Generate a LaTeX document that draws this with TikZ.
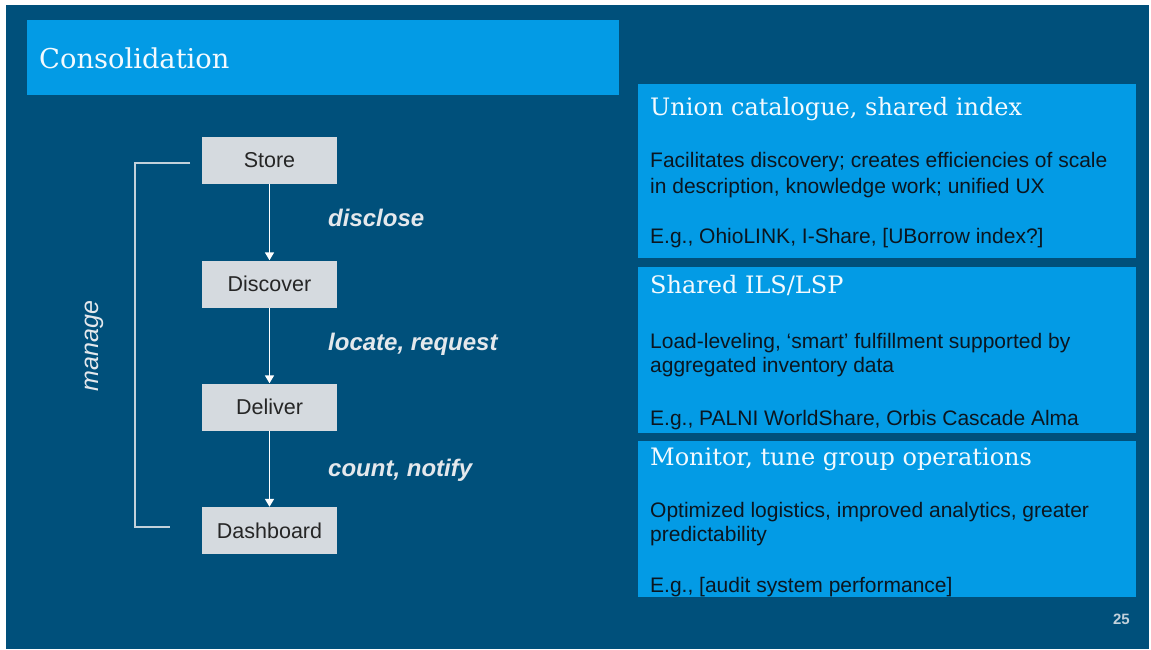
\documentclass[tikz,border=0pt]{standalone}
\usepackage{fontspec}
\setmainfont{Liberation Sans}
\newfontfamily\slab{DejaVu Serif}
\usetikzlibrary{arrows.meta}
\definecolor{bgdark}{HTML}{00507B}
\definecolor{bluebar}{HTML}{039BE5}
\definecolor{boxgray}{HTML}{D5DADF}
\definecolor{lbl}{HTML}{E4E8EC}
\definecolor{bodytxt}{HTML}{0B1620}
\begin{document}
\begin{tikzpicture}[x=1pt,y=-1pt,
  stepbox/.style={draw=none,fill=boxgray,minimum width=135pt,minimum height=47pt,inner sep=0pt,
    font=\fontsize{21.5}{25}\selectfont,text=black!85},
  flow/.style={draw=white,line width=1.6pt,-{Triangle[width=9pt,length=8pt]}},
  flowlbl/.style={anchor=base west,inner sep=0pt,text=lbl,font=\fontsize{24}{28}\selectfont\bfseries\itshape},
  panel/.style={fill=bluebar,draw=none,anchor=north west,minimum width=498pt,inner sep=0pt},
  ptitle/.style={anchor=base west,inner sep=0pt,text=white!95!bluebar,font=\slab\fontsize{24}{28}\selectfont},
  pbody/.style={anchor=base west,inner sep=0pt,text=bodytxt,font=\fontsize{21}{25}\selectfont},
  bracket/.style={draw=lbl!85!bgdark,line width=1.2pt}
]
\useasboundingbox (0,0) rectangle (1151,649);
\fill[white] (0,0) rectangle (1151,649);
\fill[bgdark] (6,5) rectangle (1149,649);
% title bar
\node[fill=bluebar,anchor=north west,minimum width=592pt,minimum height=75pt,inner sep=0pt] (titlebar) at (27,20) {};
\node[anchor=base west,inner sep=0pt,text=white!95!bluebar,font=\slab\fontsize{27.3}{32}\selectfont] (title) at (39,68) {Consolidation};
% flow
\node[stepbox] (store) at (269.5,160.5) {Store};
\node[stepbox] (discover) at (269.5,284) {Discover};
\node[stepbox] (deliver) at (269.5,407) {Deliver};
\node[stepbox] (dash) at (269.5,530.5) {Dashboard};
\draw[flow] (store) -- (discover);
\draw[flow] (discover) -- (deliver);
\draw[flow] (deliver) -- (dash);
\node[flowlbl] (l1) at (328,226) {disclose};
\node[flowlbl] (l2) at (328,350) {locate, request};
\node[flowlbl] (l3) at (328,476) {count, notify};
\coordinate (mtop) at (190,163);
\coordinate (mbot) at (170,527);
\draw[bracket] (mtop) -- (135,163) -- (135,527) -- (mbot);
\node[rotate=90,inner sep=0pt,text=lbl,font=\fontsize{25}{29}\selectfont\itshape] (manage) at (94,346) {manage};
% panels
\node[panel,minimum height=174pt] (p1) at (638,84) {};
\node[panel,minimum height=166pt] (p2) at (638,267) {};
\node[panel,minimum height=156pt] (p3) at (638,441) {};
\node[ptitle] (p1t) at (650,115) {Union catalogue, shared index};
\node[pbody] (p1a) at (650,167) {Facilitates discovery; creates efficiencies of scale};
\node[pbody] (p1b) at (650,193) {in description, knowledge work; unified UX};
\node[pbody] (p1c) at (650,243) {E.g., OhioLINK, I-Share, [UBorrow index?]};
\node[ptitle] (p2t) at (650,293) {Shared ILS/LSP};
\node[pbody] (p2a) at (650,348) {Load-leveling, ‘smart’ fulfillment supported by};
\node[pbody] (p2b) at (650,372) {aggregated inventory data};
\node[pbody] (p2c) at (650,425) {E.g., PALNI WorldShare, Orbis Cascade Alma};
\node[ptitle] (p3t) at (650,465) {Monitor, tune group operations};
\node[pbody] (p3a) at (650,517) {Optimized logistics, improved analytics, greater};
\node[pbody] (p3b) at (650,541) {predictability};
\node[pbody] (p3c) at (650,592) {E.g., [audit system performance]};
\node[anchor=base east,inner sep=0pt,text=lbl!85!bgdark,font=\fontsize{15}{18}\selectfont\bfseries] (pg) at (1130,624) {25};
\end{tikzpicture}
\end{document}
